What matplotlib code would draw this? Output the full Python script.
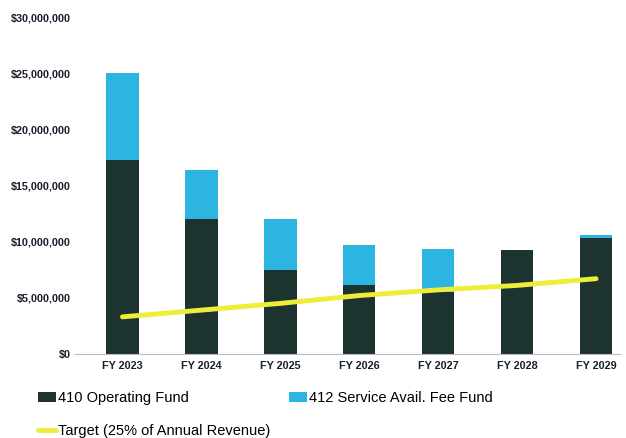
import matplotlib.pyplot as plt
from matplotlib.ticker import FuncFormatter

plt.rcParams['font.family'] = ['Liberation Sans', 'DejaVu Sans']

years = ['FY 2023', 'FY 2024', 'FY 2025', 'FY 2026', 'FY 2027', 'FY 2028', 'FY 2029']
operating_fund = [17.3e6, 12.0e6, 7.5e6, 6.1e6, 5.5e6, 9.25e6, 10.3e6]
service_fee_fund = [7.7e6, 4.4e6, 4.5e6, 3.6e6, 3.8e6, 0.0, 0.3e6]
target = [3.3e6, 3.9e6, 4.5e6, 5.2e6, 5.7e6, 6.1e6, 6.7e6]

dark = '#1c332f'
cyan = '#2bb5e0'
yellow = '#eeee3a'

fig = plt.figure(figsize=(6.26, 4.38), dpi=100)
ax = fig.add_axes([0.12, 0.192, 0.87, 0.769])

x = range(len(years))
ax.bar(x, operating_fund, width=0.41, color=dark, label='410 Operating Fund', zorder=2)
ax.bar(x, service_fee_fund, width=0.41, bottom=operating_fund, color=cyan,
       label='412 Service Avail. Fee Fund', zorder=2)
ax.plot(x, target, color=yellow, linewidth=3.5, solid_capstyle='round',
        label='Target (25% of Annual Revenue)', zorder=3)

ax.set_ylim(0, 30e6)
ax.set_xlim(-0.6, 6.3)
ax.set_yticks(range(0, 30000001, 5000000))
ax.yaxis.set_major_formatter(FuncFormatter(lambda v, p: f'${v:,.0f}'))
ax.set_xticks(list(x))
ax.set_xticklabels(years)
ax.tick_params(axis='both', length=0, labelsize=7.8, colors='#1a1f2e')
ax.tick_params(axis='x', pad=5)
ax.tick_params(axis='y', pad=3)
for lbl in ax.get_yticklabels() + ax.get_xticklabels():
    lbl.set_fontweight('bold')

for side in ['top', 'right', 'left']:
    ax.spines[side].set_visible(False)
ax.spines['bottom'].set_color('#bbbbbb')

handles, labels = ax.get_legend_handles_labels()
# handles: line, bar1, bar2 -> arrange so row 1 is the two funds, row 2 the target
order = [1, 0, 2]
fig.legend([handles[i] for i in order], [labels[i] for i in order],
           ncol=2, loc='lower left', bbox_to_anchor=(0.04, -0.03),
           frameon=False, fontsize=10.5, handlelength=1.2, handletextpad=0.15,
           columnspacing=1.3, labelspacing=1.3)

fig.savefig('out.png', dpi=100)
